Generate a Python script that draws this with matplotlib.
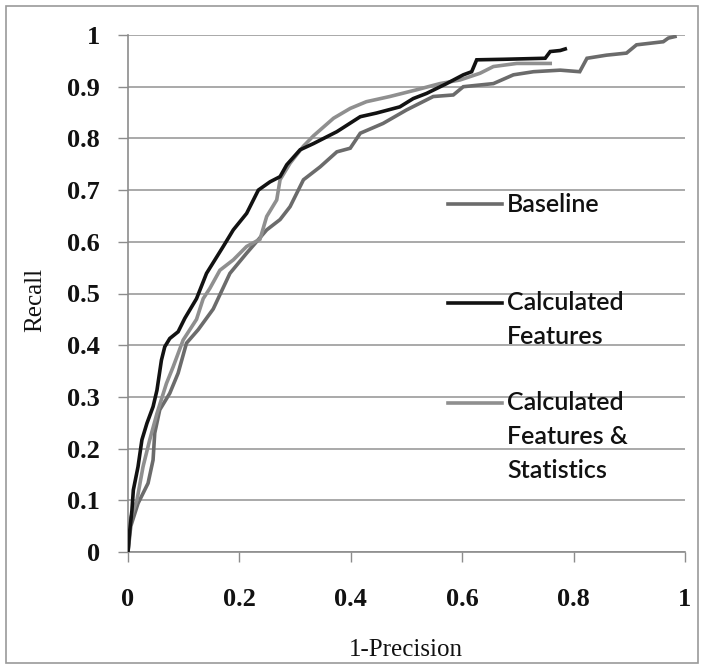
import numpy as np
import matplotlib
matplotlib.use("Agg")
import matplotlib.pyplot as plt
from matplotlib.patches import Rectangle
from matplotlib.lines import Line2D

# ---- data ----
series_names = ["Baseline", "Calculated Features", "Calculated Features & Statistics"]

baseline_x = [0, 0.005, 0.018, 0.036, 0.045, 0.048, 0.057, 0.075, 0.090, 0.105, 0.126, 0.153,
              0.183, 0.213, 0.249, 0.273, 0.291, 0.315, 0.345, 0.375, 0.399, 0.417, 0.458,
              0.50, 0.548, 0.584, 0.602, 0.656, 0.692, 0.728, 0.776, 0.811, 0.824, 0.859,
              0.895, 0.913, 0.961, 0.970, 0.982]
baseline_y = [0, 0.05, 0.094, 0.133, 0.178, 0.23, 0.275, 0.307, 0.346, 0.404, 0.43, 0.47,
              0.539, 0.578, 0.623, 0.643, 0.668, 0.72, 0.745, 0.774, 0.781, 0.81, 0.829,
              0.855, 0.881, 0.884, 0.90, 0.906, 0.923, 0.929, 0.932, 0.929, 0.955, 0.961,
              0.965, 0.981, 0.987, 0.994, 0.997]

calc_x = [0, 0.003, 0.007, 0.0096, 0.018, 0.025, 0.034, 0.045, 0.052, 0.060, 0.066, 0.075,
          0.09, 0.102, 0.123, 0.141, 0.171, 0.189, 0.213, 0.234, 0.255, 0.273, 0.285, 0.309,
          0.333, 0.375, 0.417, 0.446, 0.488, 0.512, 0.536, 0.572, 0.602, 0.617, 0.626, 0.674,
          0.749, 0.758, 0.776, 0.785]
calc_y = [0, 0.04, 0.08, 0.12, 0.165, 0.217, 0.249, 0.281, 0.313, 0.371, 0.397, 0.413,
          0.426, 0.452, 0.49, 0.539, 0.591, 0.623, 0.655, 0.70, 0.716, 0.726, 0.749, 0.778,
          0.79, 0.813, 0.842, 0.849, 0.861, 0.877, 0.887, 0.906, 0.923, 0.929, 0.952, 0.953,
          0.955, 0.968, 0.97, 0.973]

stats_x = [0, 0.0036, 0.016, 0.027, 0.039, 0.052, 0.069, 0.081, 0.099, 0.111, 0.123, 0.135,
           0.147, 0.165, 0.189, 0.213, 0.237, 0.249, 0.267, 0.273, 0.291, 0.315, 0.333,
           0.369, 0.399, 0.428, 0.470, 0.518, 0.560, 0.596, 0.632, 0.656, 0.698, 0.758]
stats_y = [0, 0.062, 0.10, 0.165, 0.217, 0.268, 0.326, 0.358, 0.41, 0.43, 0.45, 0.49,
           0.51, 0.545, 0.565, 0.591, 0.605, 0.649, 0.681, 0.72, 0.752, 0.785, 0.805,
           0.839, 0.858, 0.871, 0.881, 0.894, 0.906, 0.913, 0.926, 0.939, 0.945, 0.945]

x_ticks = [0, 0.2, 0.4, 0.6, 0.8, 1]
x_tick_labels = ["0", "0.2", "0.4", "0.6", "0.8", "1"]
y_ticks = [0, 0.1, 0.2, 0.3, 0.4, 0.5, 0.6, 0.7, 0.8, 0.9, 1]
y_tick_labels = ["0", "0.1", "0.2", "0.3", "0.4", "0.5", "0.6", "0.7", "0.8", "0.9", "1"]

colors = ["#6b6b6b", "#121212", "#8f8f8f"]

W, H = 704, 669
fig = plt.figure(figsize=(W / 100, H / 100), dpi=100)
fig.patch.set_facecolor("white")

# outer border
fig.patches.append(Rectangle((6 / W, 6 / H), (698 - 6) / W, (663 - 6) / H,
                             transform=fig.transFigure, fill=False,
                             edgecolor="#9a9a9a", linewidth=1.2))

ax = fig.add_axes([128 / W, 117 / H, 557 / W, 517 / H])
ax.set_xlim(0, 1)
ax.set_ylim(0, 1)

lw = 2.6
ax.plot(baseline_x, baseline_y, color=colors[0], lw=lw, solid_joinstyle="miter", zorder=3)
ax.plot(stats_x, stats_y, color=colors[2], lw=lw, solid_joinstyle="miter", zorder=3)
ax.plot(calc_x, calc_y, color=colors[1], lw=lw, solid_joinstyle="miter", zorder=4)

for s in ["top", "right"]:
    ax.spines[s].set_visible(False)
for s in ["left", "bottom"]:
    ax.spines[s].set_color("#8c8c8c")
    ax.spines[s].set_linewidth(1.2)

ax.set_xticks(x_ticks)
ax.set_xticklabels(x_tick_labels)
ax.set_yticks(y_ticks)
ax.set_yticklabels(y_tick_labels)
ax.yaxis.grid(True, color="#a3a3a3", linewidth=1.3)
ax.set_axisbelow(True)

tick_font = dict(family="Liberation Serif", weight="bold", size=19)
for lab in ax.get_xticklabels() + ax.get_yticklabels():
    lab.set_fontfamily(tick_font["family"])
    lab.set_fontweight(tick_font["weight"])
    lab.set_fontsize(tick_font["size"])
    lab.set_color("#111111")
ax.tick_params(axis="both", direction="out", length=7.2, width=1.0, color="#8c8c8c")
ax.tick_params(axis="y", pad=13)
ax.tick_params(axis="x", pad=19)

fig.text(35 / W, 1 - 300 / H, "Recall", rotation=90, ha="center", va="center",
         family="Liberation Serif", fontsize=18, color="#111111")
fig.text(406 / W, 1 - 650 / H, "1-Precision", ha="center", va="center",
         family="Liberation Serif", fontsize=18, color="#111111")

# legend (manual layout to match the reference)
leg_rows = [
    (204, colors[0], ["Baseline"]),
    (303, colors[1], ["Calculated", "Features"]),
    (403, colors[2], ["Calculated", "Features &", "Statistics"]),
]
for ypix, col, lines in leg_rows:
    fig.add_artist(Line2D([448 / W, 502 / W], [1 - ypix / H, 1 - ypix / H],
                          transform=fig.transFigure, color=col, lw=lw))
    for i, t in enumerate(lines):
        fig.text(507 / W, 1 - (ypix + 33.5 * i) / H, t, ha="left", va="center",
                 family="Lato", fontweight=600, fontsize=18, color="#111111")

fig.savefig("out.png", dpi=100, facecolor="white")
